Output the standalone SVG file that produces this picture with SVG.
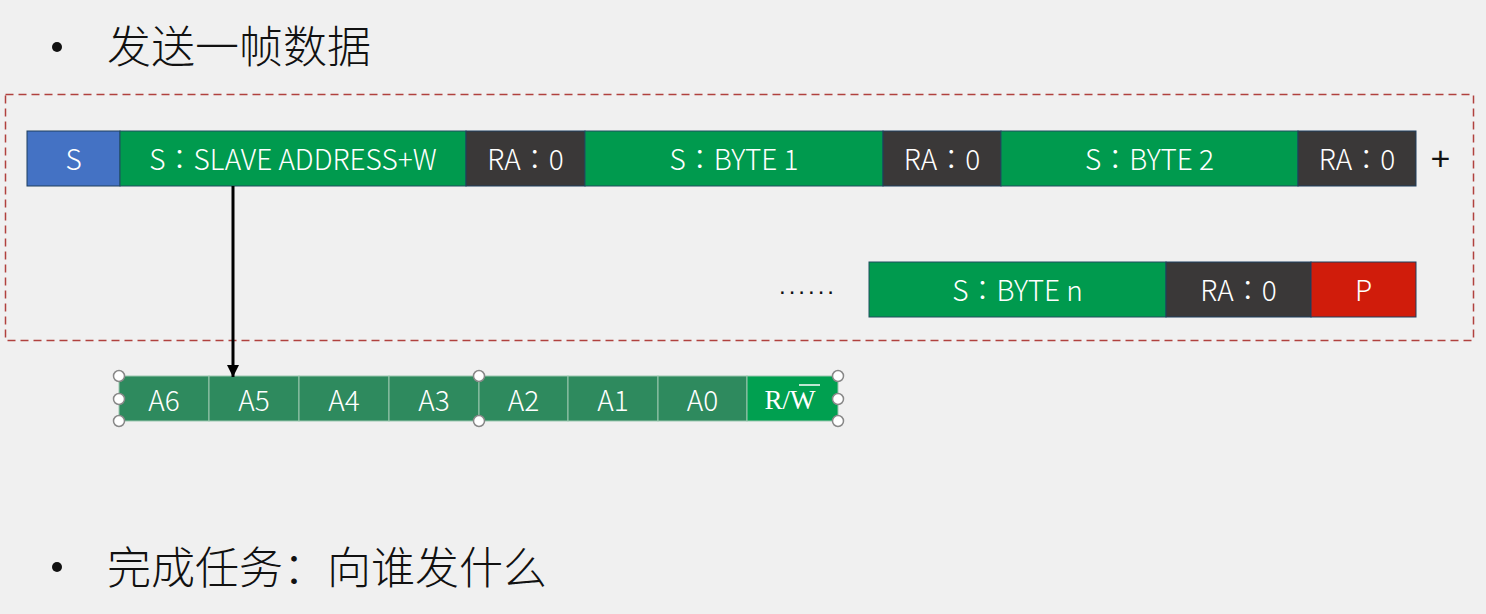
<svg xmlns="http://www.w3.org/2000/svg" width="1486" height="614" viewBox="0 0 1486 614">
<style>
.t{font-family:"Noto Sans CJK TC","Liberation Sans",sans-serif;font-size:28px;font-weight:300;fill:#ffffff;text-anchor:middle;dominant-baseline:central}
.h{font-family:"Noto Sans CJK SC",sans-serif;font-size:44px;font-weight:300;fill:#111111}
.g{fill:#009A4E;stroke:#1f4e5f;stroke-width:1}
.d{fill:#3a3838;stroke:#1f3f5f;stroke-width:1}
.c{fill:#2E8A5E;stroke:#9cc7b0;stroke-width:1}
.hd{fill:#ffffff;stroke:#888888;stroke-width:1.5}
</style>
<defs>
<marker id="ah" markerWidth="12" markerHeight="12" refX="12" refY="6" orient="auto" markerUnits="userSpaceOnUse">
<path d="M0,0 L12,6 L0,12 Z" fill="#000"/>
</marker>
</defs>
<rect width="1486" height="614" fill="#f0f0f0"/>
<g id="title1">
<circle cx="57" cy="47" r="5" fill="#111"/>
<text class="h" x="107" y="63">发送一帧数据</text>
</g>
<g id="title2">
<circle cx="57" cy="567" r="5" fill="#111"/>
<text class="h" x="107" y="584">完成任务：向谁发什么</text>
</g>
<g id="frame">
<rect x="5.5" y="94.5" width="1468" height="246" fill="none" stroke="#b0413e" stroke-width="1.5" stroke-dasharray="8,5"/>
</g>
<g id="row1">
<rect x="27" y="131" width="93" height="55" fill="#4472C4" stroke="#1f3f5f"/>
<text class="t" x="73.5" y="158">S</text>
<rect class="g" x="120" y="131" width="346" height="55"/>
<text class="t" x="293" y="158">S：SLAVE ADDRESS+W</text>
<rect class="d" x="466" y="131" width="119" height="55"/>
<text class="t" x="525.5" y="158">RA：0</text>
<rect class="g" x="585" y="131" width="298" height="55"/>
<text class="t" x="734" y="158">S：BYTE 1</text>
<rect class="d" x="883" y="131" width="118" height="55"/>
<text class="t" x="942" y="158">RA：0</text>
<rect class="g" x="1001" y="131" width="297" height="55"/>
<text class="t" x="1149.5" y="158">S：BYTE 2</text>
<rect class="d" x="1298" y="131" width="118" height="55"/>
<text class="t" x="1357" y="158">RA：0</text>
<text x="1440.5" y="170" style="font-family:'Liberation Sans',sans-serif;font-size:34px;fill:#111;text-anchor:middle">+</text>
</g>
<g id="row2">
<text x="808" y="294" style="font-family:'Liberation Sans',sans-serif;font-size:24px;fill:#111;text-anchor:middle;letter-spacing:3px">......</text>
<rect class="g" x="869" y="262" width="297" height="55"/>
<text class="t" x="1017.5" y="289">S：BYTE n</text>
<rect class="d" x="1166" y="262" width="145" height="55"/>
<text class="t" x="1238.5" y="289">RA：0</text>
<rect x="1311" y="262" width="105" height="55" fill="#D01C0B" stroke="#1f3f5f"/>
<text class="t" x="1363.5" y="289">P</text>
</g>
<g id="address">
<rect class="c" x="119" y="376" width="90" height="45"/>
<text class="t" x="164" y="399">A6</text>
<rect class="c" x="209" y="376" width="90" height="45"/>
<text class="t" x="254" y="399">A5</text>
<rect class="c" x="299" y="376" width="90" height="45"/>
<text class="t" x="344" y="399">A4</text>
<rect class="c" x="389" y="376" width="90" height="45"/>
<text class="t" x="434" y="399">A3</text>
<rect class="c" x="479" y="376" width="89" height="45"/>
<text class="t" x="523.5" y="399">A2</text>
<rect class="c" x="568" y="376" width="90" height="45"/>
<text class="t" x="613" y="399">A1</text>
<rect class="c" x="658" y="376" width="89" height="45"/>
<text class="t" x="702.5" y="399">A0</text>
<rect x="747" y="376" width="91" height="45" fill="#00A050" stroke="#9cc7b0"/>
<text x="790" y="409" style="font-family:'Liberation Serif',serif;font-size:27px;fill:#fff;text-anchor:middle">R/W</text>
<line x1="799" y1="385" x2="820" y2="385" stroke="#fff" stroke-width="1.5"/>
</g>
<g id="connectors">
<line x1="233" y1="186" x2="233" y2="377" stroke="#000" stroke-width="3" marker-end="url(#ah)"/>
</g>
<g id="handles">
<circle class="hd" cx="119" cy="376" r="5.5"/>
<circle class="hd" cx="119" cy="399" r="5.5"/>
<circle class="hd" cx="119" cy="421" r="5.5"/>
<circle class="hd" cx="479" cy="376" r="5.5"/>
<circle class="hd" cx="479" cy="421" r="5.5"/>
<circle class="hd" cx="838" cy="376" r="5.5"/>
<circle class="hd" cx="838" cy="399" r="5.5"/>
<circle class="hd" cx="838" cy="421" r="5.5"/>
</g>
</svg>
